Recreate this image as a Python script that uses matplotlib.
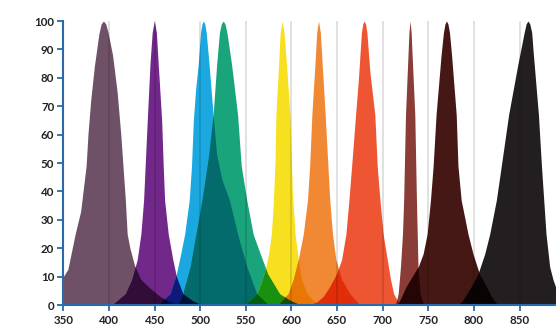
import numpy as np
import matplotlib
matplotlib.use("Agg")
import matplotlib.pyplot as plt
from matplotlib.colors import to_rgb
from itertools import combinations

# ---------------- data (wavelength nm, relative intensity %) ----------------
s1_x = [350, 355, 363, 369, 375, 377, 380, 384, 389, 391.5, 394, 396.5, 399, 404, 409, 413, 418, 420, 423, 428, 435, 443, 456, 467, 478]
s1_y = [10, 12.6, 25, 33, 49, 60, 72, 84, 95.5, 99, 100, 99, 96, 88, 75, 60, 37, 25, 20, 14, 9, 6.5, 3, 1, 0]

s2_x = [403, 407, 418, 425, 431, 435, 438, 442, 445, 447.4, 449.7, 452, 454, 457.8, 459.5, 461, 465, 470, 474, 481, 492, 502]
s2_y = [0, 1, 4, 9, 16, 25, 37, 65, 85, 96, 100, 96, 85, 65, 49, 37, 25, 16, 10, 4, 1.5, 0]

s3_x = [455, 459, 467, 474, 478, 483, 488, 490.5, 492.5, 495, 497.8, 500.4, 502, 503.5, 505, 506.6, 509.8, 514.2, 518, 524, 532, 541, 551, 562, 575]
s3_y = [0, 1.8, 4, 11, 17, 25, 37, 49, 65, 76, 84.5, 96, 99, 100, 99, 96, 84.5, 67, 53, 44, 37, 25, 13.5, 4, 0]

s4_x = [475, 481, 489, 502, 509, 514.2, 518, 521.1, 523.2, 525.2, 527.2, 529.3, 534.5, 541, 545, 551, 558, 567, 574, 587, 598, 610]
s4_y = [0, 4, 13.5, 37, 52, 67, 84.5, 96, 99, 100, 99, 96, 84.5, 67, 49, 37, 25, 17, 11, 4, 1.8, 0]

s5_x = [548, 555, 562, 567, 572, 575, 578, 580, 582, 583, 586, 587.7, 589.8, 591.9, 594.5, 598.4, 601, 604, 607.5, 611, 617, 624, 632]
s5_y = [0, 1.8, 4, 8, 13.5, 18, 25, 35, 50, 67, 85, 96, 100, 96, 85, 67, 40, 25, 16, 9, 4, 1.5, 0]

s6_x = [585, 590, 596.5, 602, 607.5, 613, 617.6, 620, 622.4, 626, 627.7, 629.7, 631.7, 633.5, 637, 640, 642, 645, 648.7, 655, 664, 675]
s6_y = [0, 1.8, 4, 9, 16, 25, 37, 49, 67, 86, 96, 100, 96, 86, 67, 49, 37, 25, 16, 9, 4, 0]

s7_x = [620, 627.5, 635, 642, 649.5, 655, 659.7, 663, 666, 670.3, 673.5, 676.7, 678.2, 679.7, 681.2, 682.7, 686, 691.4, 694, 697, 700.5, 705, 708.6, 712, 717, 721]
s7_y = [0, 1, 3, 6.5, 11, 16, 25, 37, 49, 67, 80, 96, 99, 100, 99, 96, 82, 67, 49, 37, 25, 16, 9, 4, 1, 0]

s8_x = [714, 717, 719.5, 721.7, 723, 725, 728, 728.8, 730, 731.2, 732, 735.2, 737, 738.7, 741, 745]
s8_y = [0, 4, 13.5, 25, 37, 67, 90, 96, 100, 96, 90, 67, 37, 13.5, 4, 0]

s9_x = [716, 719, 726, 739, 744.3, 748.7, 752.4, 755.3, 758.5, 764, 766.6, 768.3, 769.9, 771.5, 773.2, 775.5, 780.6, 782.5, 786, 793.5, 799, 806, 813.6, 819, 826]
s9_y = [0, 1.8, 6.6, 13.5, 18, 25, 37, 49, 67, 88, 96, 99, 100, 99, 96, 88, 67, 49, 37, 25, 18, 11, 6.6, 3, 0]

s10_x = [783, 788, 797.3, 804.5, 811.8, 817.3, 824.6, 830, 838, 848, 855.1, 857.2, 859.2, 861.2, 863.3, 864.7, 870.7, 874, 876.5, 879, 883, 886.6, 891, 897, 905]
s10_y = [0, 1.8, 6.6, 11, 18, 25, 37, 49, 67, 84.5, 96, 99, 100, 99, 96, 90, 67, 49, 37, 25, 13.5, 9, 5, 2, 0]

series_x = [s1_x, s2_x, s3_x, s4_x, s5_x, s6_x, s7_x, s8_x, s9_x, s10_x]
series_y = [s1_y, s2_y, s3_y, s4_y, s5_y, s6_y, s7_y, s8_y, s9_y, s10_y]
colors = ["#6f5167", "#72288a", "#1ba7e0", "#1aa47b", "#f6e01f",
          "#f08834", "#ee5533", "#8a3c36", "#461815", "#231f20"]

x_ticks = [350, 400, 450, 500, 550, 600, 650, 700, 750, 800, 850, 900]
y_ticks = [0, 10, 20, 30, 40, 50, 60, 70, 80, 90, 100]

# ---------------- figure ----------------
W, H = 556, 325
fig = plt.figure(figsize=(W / 100, H / 100), dpi=100)
left_px, bottom_px, top_px = 63.3, 305.0, 21.0
px_per_nm = 0.9125
right_px = left_px + (900 - 350) * px_per_nm
ax = fig.add_axes([left_px / W, (H - bottom_px) / H,
                   (right_px - left_px) / W, (bottom_px - top_px) / H])
ax.set_xlim(350, 900)
ax.set_ylim(0, 100)

# multiply-blend emulation of overlapping areas
allx = np.unique(np.concatenate([np.concatenate([np.asarray(x, float) for x in series_x]),
                                 np.linspace(350, 905, 4000)]))
Y = [np.interp(allx, x, y, left=0, right=0) for x, y in zip(series_x, series_y)]
rgb = [np.array(to_rgb(c)) for c in colors]

for x, y, c in zip(series_x, series_y, colors):
    ax.fill_between(x, 0, y, color=c, lw=0, zorder=1)

for k in (2, 3):
    for combo in combinations(range(len(colors)), k):
        ymin = np.min([Y[i] for i in combo], axis=0)
        if ymin.max() <= 0.05:
            continue
        col = np.prod([rgb[i] for i in combo], axis=0)
        ax.fill_between(allx, 0, ymin, where=ymin > 0, color=col, lw=0,
                        zorder=k, interpolate=True)

# vertical gridlines (multiplied look)
for xv in x_ticks[1:-1]:
    ax.axvline(xv, color="black", alpha=0.13, lw=1.3, zorder=5)

axis_col = "#2a6aa8"
for s in ("top", "right"):
    ax.spines[s].set_visible(False)
for s in ("left", "bottom"):
    ax.spines[s].set_color(axis_col)
    ax.spines[s].set_linewidth(1.5)
    ax.spines[s].set_zorder(6)

ax.set_xticks(x_ticks)
ax.set_yticks(y_ticks)
ax.tick_params(axis="both", colors=axis_col, length=4.5, width=1.3,
               labelcolor="#222222", labelsize=8.3)
ax.tick_params(axis="x", pad=3)
ax.tick_params(axis="y", pad=2)
for lab in ax.get_xticklabels() + ax.get_yticklabels():
    lab.set_fontfamily(["Lato", "DejaVu Sans"])
    lab.set_fontweight("bold")

fig.savefig("out.png", dpi=100)
